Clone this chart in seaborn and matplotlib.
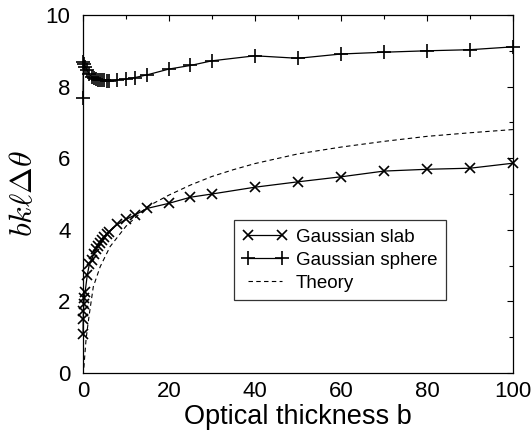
import numpy as np
import pandas as pd
import seaborn as sns
import matplotlib
matplotlib.use("Agg")
import matplotlib.pyplot as plt
from matplotlib.ticker import MultipleLocator

# Gaussian slab simulation
slab_b = [0.01, 0.05, 0.1, 0.2, 0.3, 0.5, 1, 1.5, 2, 2.5, 3, 3.5, 4, 4.5, 5,
          5.5, 6, 8, 10, 12, 15, 20, 25, 30, 40, 50, 60, 70, 80, 90, 100]
slab_val = [1.08, 1.50, 1.74, 1.93, 2.10, 2.27, 2.74, 3.05, 3.17, 3.32, 3.45,
            3.55, 3.64, 3.72, 3.80, 3.87, 3.94, 4.15, 4.29, 4.41, 4.60, 4.74,
            4.91, 5.00, 5.19, 5.34, 5.48, 5.64, 5.69, 5.72, 5.86]

# Gaussian sphere simulation
sphere_b = [0.01, 0.1, 0.2, 0.5, 1, 1.5, 2, 2.5, 3, 3.5, 4, 4.5, 5, 5.5, 6,
            8, 10, 12, 15, 20, 25, 30, 40, 50, 60, 70, 80, 90, 100]
sphere_val = [7.67, 8.68, 8.64, 8.55, 8.45, 8.34, 8.28, 8.24, 8.21, 8.19, 8.18,
              8.17, 8.17, 8.16, 8.16, 8.19, 8.21, 8.25, 8.33, 8.49, 8.59, 8.72,
              8.86, 8.79, 8.91, 8.96, 9.00, 9.03, 9.11]

# Analytic prediction
theory_b = [0.2, 0.5, 0.7, 1, 1.5, 2.4, 4, 6.3, 10, 15, 20, 25, 30, 35, 40,
            50, 60, 70, 80, 90, 100]
theory_val = [0.15, 0.62, 0.92, 1.22, 1.67, 2.41, 2.97, 3.53, 4.10, 4.65, 4.97,
              5.25, 5.49, 5.68, 5.85, 6.12, 6.31, 6.47, 6.61, 6.71, 6.80]

x_ticks = [0, 20, 40, 60, 80, 100]
y_ticks = [0, 2, 4, 6, 8, 10]

sns.set_style("white")
plt.rcParams["font.family"] = ["Liberation Sans", "DejaVu Sans"]
plt.rcParams.update({
    "text.color": "black",
    "axes.labelcolor": "black",
    "xtick.color": "black",
    "ytick.color": "black",
    "axes.edgecolor": "black",
})

fig = plt.figure(figsize=(5.31, 4.38), dpi=100)
ax = fig.add_axes([0.1563, 0.1484, 0.8098, 0.8174])

sns.lineplot(x=slab_b, y=slab_val, ax=ax, color="black", lw=0.9,
             marker="x", markersize=7, markeredgewidth=1.2,
             markeredgecolor="black", label="Gaussian slab", clip_on=False)
sns.lineplot(x=sphere_b, y=sphere_val, ax=ax, color="black", lw=0.9,
             marker="+", markersize=10, markeredgewidth=1.2,
             markeredgecolor="black", label="Gaussian sphere", clip_on=False)
sns.lineplot(x=theory_b, y=theory_val, ax=ax, color="black", lw=0.8,
             linestyle=(0, (4, 3)), label="Theory")

ax.set_xlim(0, 100)
ax.set_ylim(0, 10)
ax.set_xticks(x_ticks)
ax.set_yticks(y_ticks)
ax.xaxis.set_minor_locator(MultipleLocator(10))
ax.yaxis.set_minor_locator(MultipleLocator(1))
ax.tick_params(which="both", direction="in", top=True, right=True,
               colors="black", labelsize=16)
ax.tick_params(which="major", length=4.5, width=0.8)
ax.tick_params(which="minor", length=3, width=0.8)
ax.tick_params(axis="x", which="major", pad=6)
ax.tick_params(axis="y", which="major", pad=9)

for s in ax.spines.values():
    s.set_color("black")
    s.set_linewidth(0.9)

ax.set_xlabel("Optical thickness b", fontsize=19.5, labelpad=1)
ax.set_ylabel(r"$bk\ell\Delta\theta$", fontsize=23, labelpad=5,
              math_fontfamily="cm")

leg = ax.legend(loc="lower left", bbox_to_anchor=(0.351, 0.204),
                borderaxespad=0, numpoints=2, handlelength=2.4,
                handletextpad=0.45, fontsize=13.5, fancybox=False,
                frameon=True, borderpad=0.45, labelspacing=0.3)
leg.get_frame().set_edgecolor("black")
leg.get_frame().set_linewidth(0.9)

fig.savefig("out.png", dpi=100, facecolor="white")
